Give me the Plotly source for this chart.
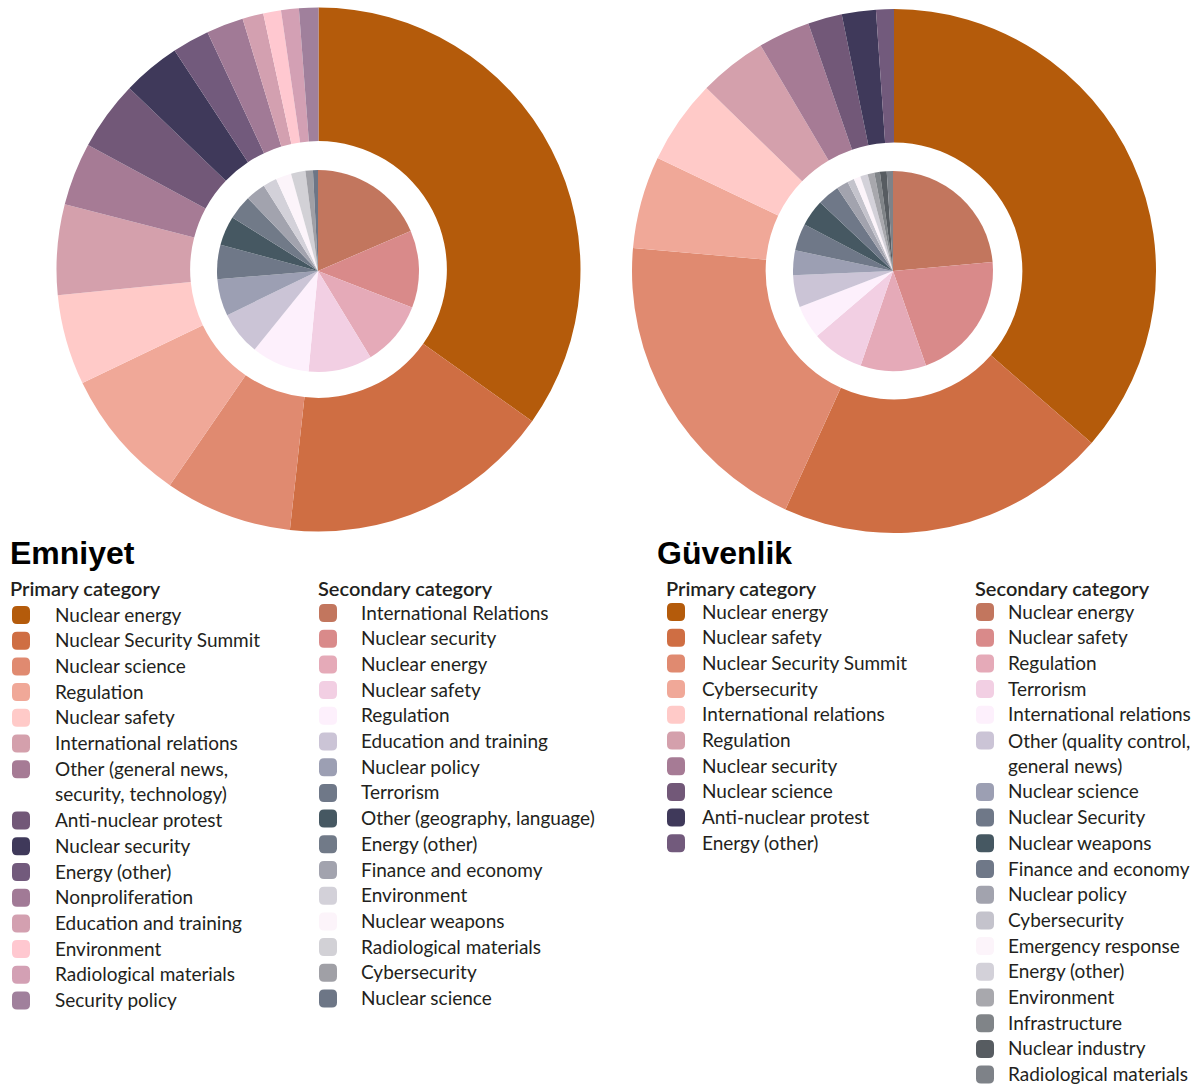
import plotly.graph_objects as go

W, H = 1195, 1087

# ---------------- DATA ----------------
emn_primary_labels = [
    "Nuclear energy", "Nuclear Security Summit", "Nuclear science", "Regulation",
    "Nuclear safety", "International relations",
    "Other (general news,<br>security, technology)", "Anti-nuclear protest",
    "Nuclear security", "Energy (other)", "Nonproliferation",
    "Education and training", "Environment", "Radiological materials", "Security policy",
]
emn_primary_values = [35.0, 17.0, 7.9, 8.3, 5.6, 5.6, 3.9, 4.3, 3.6, 2.3, 2.3, 1.3, 1.1, 1.1, 1.2]
emn_primary_colors = [
    "#B45B0B", "#CF6E43", "#E08A70", "#F0A898", "#FFCAC8", "#D4A0AC", "#A67B95",
    "#725878", "#3F395A", "#725A7C", "#A17A96", "#D3A0B0", "#FFC8D0", "#D3A0B4", "#A0809C",
]

emn_secondary_labels = [
    "International Relations", "Nuclear security", "Nuclear energy", "Nuclear safety",
    "Regulation", "Education and training", "Nuclear policy", "Terrorism",
    "Other (geography, language)", "Energy (other)", "Finance and economy",
    "Environment", "Nuclear weapons", "Radiological materials", "Cybersecurity",
    "Nuclear science",
]
emn_secondary_values = [18.5, 12.4, 10.4, 10.2, 9.3, 7.0, 5.9, 5.5, 4.7, 3.9, 3.2, 2.2, 2.5, 2.3, 1.2, 0.8]
emn_secondary_colors = [
    "#C2765E", "#D98A8A", "#E5AAB8", "#F2CFE3", "#FDF0FC", "#CBC4D6", "#9C9FB3",
    "#6F7888", "#465862", "#717A88", "#A2A3AE", "#D3D1D9", "#FCF4FA", "#D2D1D6",
    "#A0A0A6", "#6D7686",
]

guv_primary_labels = [
    "Nuclear energy", "Nuclear safety", "Nuclear Security Summit", "Cybersecurity",
    "International relations", "Regulation", "Nuclear security", "Nuclear science",
    "Anti-nuclear protest", "Energy (other)",
]
guv_primary_values = [36.4, 20.4, 19.6, 5.7, 5.2, 4.2, 3.2, 2.1, 2.1, 1.1]
guv_primary_colors = [
    "#B45B0B", "#CF6E43", "#E08A70", "#F0A898", "#FFCAC8", "#D4A0AC", "#A67B95",
    "#725878", "#3F395A", "#725A7C",
]

guv_secondary_labels = [
    "Nuclear energy", "Nuclear safety", "Regulation", "Terrorism",
    "International relations", "Other (quality control,<br>general news)",
    "Nuclear science", "Nuclear Security", "Nuclear weapons", "Finance and economy",
    "Nuclear policy", "Cybersecurity", "Emergency response", "Energy (other)",
    "Environment", "Infrastructure", "Nuclear industry", "Radiological materials",
]
guv_secondary_values = [23.6, 21.1, 10.6, 8.5, 5.4, 5.2, 4.0, 4.4, 4.3, 3.6, 1.9, 1.1, 1.1, 1.2, 1.1, 0.9, 1.1, 1.0]
guv_secondary_colors = [
    "#C2765E", "#D98A8A", "#E5AAB8", "#F2CFE3", "#FDF0FC", "#CBC4D6", "#9C9FB3",
    "#6F7888", "#465862", "#6F7888", "#A2A3AE", "#C4C3CC", "#FCF4FA", "#D3D1D9",
    "#A8A8AD", "#808488", "#575C61", "#7E8288",
]

titles = ["Emniyet", "Güvenlik"]
headers = ["Primary category", "Secondary category"]

# ---------------- LAYOUT HELPERS ----------------
def dom(cx, cy, r):
    return dict(x=[(cx - r) / W, (cx + r) / W], y=[1 - (cy + r) / H, 1 - (cy - r) / H])

fig = go.Figure()

def add_pie(labels, values, colors, cx, cy, r, hole):
    fig.add_trace(go.Pie(
        labels=[l.replace("<br>", " ") for l in labels], values=values,
        marker=dict(colors=colors, line=dict(width=0)),
        hole=hole, sort=False, direction="clockwise", rotation=0,
        textinfo="none", showlegend=False, domain=dom(cx, cy, r),
        hoverinfo="label+percent",
    ))

# Emniyet
add_pie(emn_primary_labels, emn_primary_values, emn_primary_colors, 318.5, 269.5, 262, 0.49)
add_pie(emn_secondary_labels, emn_secondary_values, emn_secondary_colors, 318, 271, 101, 0)
# Güvenlik
add_pie(guv_primary_labels, guv_primary_values, guv_primary_colors, 894, 271, 262, 0.49)
add_pie(guv_secondary_labels, guv_secondary_values, guv_secondary_colors, 893, 271, 100, 0)

TEXT_FONT = dict(family="Lato, 'Open Sans', sans-serif", size=19, color="#231F20")
HEAD_FONT = dict(family="Lato, 'Open Sans', sans-serif", size=20, color="#231F20", weight=600)
TITLE_FONT = dict(family="'Liberation Sans', Arial, sans-serif", size=32, color="#000000", weight="bold")

annotations = []
shapes = []
STEP = 25.7


def rounded_square(cx, cy, s=9, r=5):
    return (f"M {cx-s+r},{cy-s} L {cx+s-r},{cy-s} Q {cx+s},{cy-s} {cx+s},{cy-s+r} "
            f"L {cx+s},{cy+s-r} Q {cx+s},{cy+s} {cx+s-r},{cy+s} "
            f"L {cx-s+r},{cy+s} Q {cx-s},{cy+s} {cx-s},{cy+s-r} "
            f"L {cx-s},{cy-s+r} Q {cx-s},{cy-s} {cx-s+r},{cy-s} Z")


def legend_block(labels, colors, marker_x, text_x, y0):
    xs, ys = [], []
    row = 0
    for lab, col in zip(labels, colors):
        y = y0 + row * STEP
        xs.append(marker_x)
        ys.append(y)
        n_lines = lab.count("<br>") + 1
        if n_lines == 1:
            annotations.append(dict(
                x=text_x, y=y - 1, xref="x", yref="y", text=lab, showarrow=False,
                xanchor="left", yanchor="middle", align="left", font=TEXT_FONT))
        else:
            annotations.append(dict(
                x=text_x, y=y - 14, xref="x", yref="y", text=lab, showarrow=False,
                xanchor="left", yanchor="top", align="left", font=TEXT_FONT))
        shapes.append(dict(type="path", xref="x", yref="y", path=rounded_square(marker_x, y),
                           fillcolor=col, line=dict(width=0), layer="above"))
        row += n_lines
    fig.add_trace(go.Scatter(
        x=xs, y=ys, mode="markers", xaxis="x", yaxis="y",
        marker=dict(size=17, color=colors, opacity=0),
        hoverinfo="skip", showlegend=False,
    ))

legend_block(emn_primary_labels, emn_primary_colors, 21, 53, 615)
legend_block(emn_secondary_labels, emn_secondary_colors, 328, 359, 613)
legend_block(guv_primary_labels, guv_primary_colors, 676, 700, 612)
legend_block(guv_secondary_labels, guv_secondary_colors, 985, 1006, 612)

for tx, title in zip([8, 655], titles):
    annotations.append(dict(x=tx, y=553, xref="x", yref="y", text=title, showarrow=False,
                            xanchor="left", yanchor="middle", font=TITLE_FONT))
for hx, hy, head in [(8, 588, headers[0]), (316, 588, headers[1]),
                     (664, 588, headers[0]), (973, 588, headers[1])]:
    annotations.append(dict(x=hx, y=hy, xref="x", yref="y", text=head, showarrow=False,
                            xanchor="left", yanchor="middle", font=HEAD_FONT))

fig.update_layout(
    width=W, height=H, margin=dict(l=0, r=0, t=0, b=0),
    paper_bgcolor="white", plot_bgcolor="rgba(0,0,0,0)",
    xaxis=dict(range=[0, W], visible=False, domain=[0, 1], fixedrange=True),
    yaxis=dict(range=[H, 0], visible=False, domain=[0, 1], fixedrange=True),
    annotations=annotations, shapes=shapes,
    showlegend=False,
)

fig.write_html("out.html")
